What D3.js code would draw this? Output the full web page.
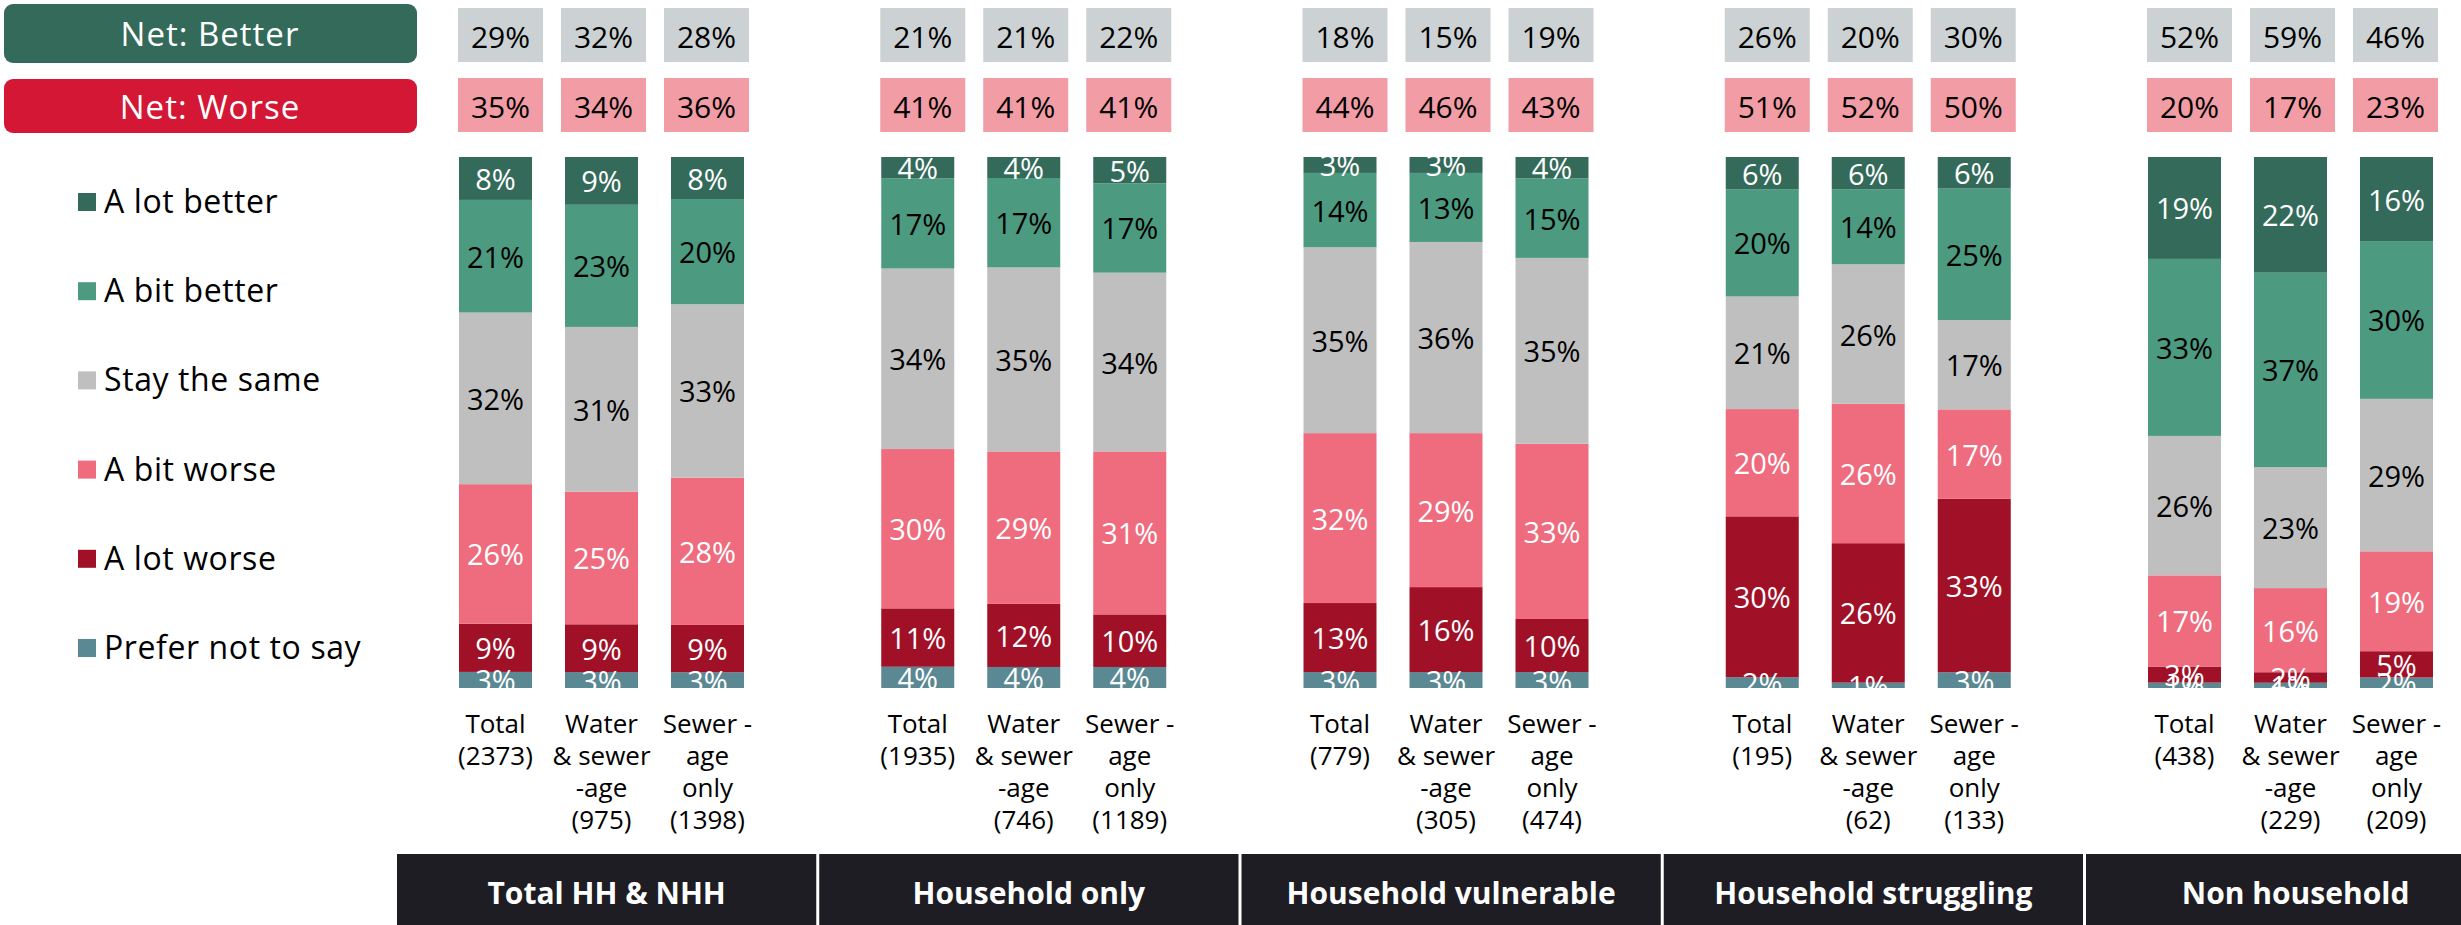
<!DOCTYPE html>
<html>
<head>
<meta charset="utf-8">
<script src="https://cdn.jsdelivr.net/npm/d3@7"></script>
<style>
  html, body { margin: 0; padding: 0; background: #ffffff; }
  svg { display: block; font-family: "Open Sans", "Noto Sans", sans-serif; }
</style>
</head>
<body>
<svg id="chart" width="2461" height="925"></svg>
<script>
// Segments (panels) and the three bars inside each segment
const groups = ["Total HH & NHH", "Household only", "Household vulnerable", "Household struggling", "Non household"];
const subgroups = ["Total", "Water & sewerage", "Sewerage only"];

// Base sizes per bar, one row per segment
const baseSizes = [
  [2373, 975, 1398],
  [1935, 746, 1189],
  [779, 305, 474],
  [195, 62, 133],
  [438, 229, 209]
];

// Answer shares (%) — 15 bars, in segment order, three bars per segment
const aLotBetter = [8, 9, 8,   4, 4, 5,   3, 3, 4,   6, 6, 6,   19, 22, 16];
const aBitBetter = [21, 23, 20, 17, 17, 17, 14, 13, 15, 20, 14, 25, 33, 37, 30];
const stayTheSame = [32, 31, 33, 34, 35, 34, 35, 36, 35, 21, 26, 17, 26, 23, 29];
const aBitWorse = [26, 25, 28, 30, 29, 31, 32, 29, 33, 20, 26, 17, 17, 16, 19];
const aLotWorse = [9, 9, 9,   11, 12, 10, 13, 16, 10, 30, 26, 33, 3, 2, 5];
const preferNotToSay = [3, 3, 3, 4, 4, 4, 3, 3, 3, 2, 1, 3, 1, 1, 2];

// Net scores shown above each bar
const netBetter = [29, 32, 28, 21, 21, 22, 18, 15, 19, 26, 20, 30, 52, 59, 46];
const netWorse = [35, 34, 36, 41, 41, 41, 44, 46, 43, 51, 52, 50, 20, 17, 23];

// Legend labels, top to bottom
const legendLabels = ["A lot better", "A bit better", "Stay the same", "A bit worse", "A lot worse", "Prefer not to say"];

// Axis label lines for the three bars of every segment
const subgroupLabelLines = [
  ["Total"],
  ["Water", "& sewer", "-age"],
  ["Sewer -", "age", "only"]
];

// ---- build table ----
const keys = ["preferNotToSay", "aLotWorse", "aBitWorse", "stayTheSame", "aBitBetter", "aLotBetter"];
const seriesValues = { aLotBetter, aBitBetter, stayTheSame, aBitWorse, aLotWorse, preferNotToSay };
const colors = {
  aLotBetter: "#346A59",
  aBitBetter: "#4C9A80",
  stayTheSame: "#BFBFBF",
  aBitWorse: "#EE6C7E",
  aLotWorse: "#A01127",
  preferNotToSay: "#5A8893"
};
const labelColors = {
  aLotBetter: "#ffffff",
  aBitBetter: "#000000",
  stayTheSame: "#000000",
  aBitWorse: "#ffffff",
  aLotWorse: "#ffffff",
  preferNotToSay: "#ffffff"
};
const legendKeys = ["aLotBetter", "aBitBetter", "stayTheSame", "aBitWorse", "aLotWorse", "preferNotToSay"];

const rows = [];
groups.forEach((g, gi) => {
  subgroups.forEach((s, si) => {
    const idx = gi * 3 + si;
    const row = { group: g, sub: s, idx, base: baseSizes[gi][si],
                  netBetter: netBetter[idx], netWorse: netWorse[idx] };
    keys.forEach(k => { row[k] = seriesValues[k][idx]; });
    rows.push(row);
  });
});

// ---- layout ----
const svg = d3.select("#chart");
const plotTop = 157, plotBottom = 688;

const xGroup = d3.scaleBand().domain(groups).range([397, 397 + 5 * 422.25]).paddingInner(0).paddingOuter(0);
const xBar = d3.scaleBand().domain(subgroups).range([62, 347]).paddingInner(33 / 106).paddingOuter(0);
const xNet = d3.scaleBand().domain(subgroups).range([61, 352]).paddingInner(18 / 103).paddingOuter(0);
const y = d3.scaleLinear().domain([0, 1]).range([plotBottom, plotTop]);

const barX = d => xGroup(d.group) + xBar(d.sub);

// 100% stacked layout
const stacked = d3.stack().keys(keys).offset(d3.stackOffsetExpand)(rows);

svg.append("defs").append("clipPath").attr("id", "plotClip")
  .append("rect").attr("x", 0).attr("y", plotTop).attr("width", 2461).attr("height", plotBottom - plotTop);

// bars
const layers = svg.append("g").attr("class", "bars")
  .selectAll("g").data(stacked).join("g")
  .attr("fill", s => colors[s.key]);

layers.selectAll("rect").data(s => s.map(p => ({ p, key: s.key })))
  .join("rect")
  .attr("x", d => barX(d.p.data))
  .attr("width", xBar.bandwidth())
  .attr("y", d => y(d.p[1]))
  .attr("height", d => y(d.p[0]) - y(d.p[1]));

// value labels inside segments
const labelLayer = svg.append("g").attr("clip-path", "url(#plotClip)")
  .attr("font-size", 29).attr("text-anchor", "middle");
stacked.forEach(s => {
  labelLayer.append("g").attr("fill", labelColors[s.key])
    .selectAll("text").data(s).join("text")
    .attr("x", p => barX(p.data) + xBar.bandwidth() / 2)
    .attr("y", p => (y(p[0]) + y(p[1])) / 2)
    .attr("dominant-baseline", "central")
    .text(p => p.data[s.key] + "%");
});

// net boxes
const netRows = [
  { field: "netBetter", y0: 8, fill: "#CCD2D4" },
  { field: "netWorse", y0: 78, fill: "#F29CA6" }
];
netRows.forEach(nr => {
  const g = svg.append("g");
  g.selectAll("rect").data(rows).join("rect")
    .attr("x", d => xGroup(d.group) + xNet(d.sub))
    .attr("y", nr.y0)
    .attr("width", xNet.bandwidth())
    .attr("height", 54)
    .attr("fill", nr.fill);
  g.selectAll("text").data(rows).join("text")
    .attr("x", d => xGroup(d.group) + xNet(d.sub) + xNet.bandwidth() / 2)
    .attr("y", nr.y0 + 28)
    .attr("dominant-baseline", "central")
    .attr("text-anchor", "middle")
    .attr("font-size", 30)
    .attr("fill", "#000")
    .text(d => d[nr.field] + "%");
});

// net headers on the left
const headers = [
  { text: "Net: Better", y0: 4, h: 59, fill: "#346A59" },
  { text: "Net: Worse", y0: 79, h: 54, fill: "#D31735" }
];
const hg = svg.append("g");
hg.selectAll("rect").data(headers).join("rect")
  .attr("x", 4).attr("y", d => d.y0).attr("width", 413).attr("height", d => d.h)
  .attr("rx", 9).attr("fill", d => d.fill);
hg.selectAll("text").data(headers).join("text")
  .attr("x", 210).attr("y", d => d.y0 + d.h / 2)
  .attr("dominant-baseline", "central").attr("text-anchor", "middle")
  .attr("font-size", 33).attr("letter-spacing", 1).attr("fill", "#fff")
  .text(d => d.text);

// legend
const yLegend = d3.scalePoint().domain(legendKeys).range([202, 648]);
const lg = svg.append("g");
lg.selectAll("rect").data(legendKeys).join("rect")
  .attr("x", 78).attr("y", k => yLegend(k) - 9).attr("width", 18).attr("height", 18)
  .attr("fill", k => colors[k]);
lg.selectAll("text").data(legendKeys).join("text")
  .attr("x", 104).attr("y", k => yLegend(k) + 11)
  .attr("font-size", 32).attr("letter-spacing", 0.6).attr("fill", "#000")
  .text((k, i) => legendLabels[i]);

// category labels under bars
const catG = svg.append("g").attr("font-size", 26).attr("text-anchor", "middle").attr("fill", "#000");
rows.forEach(d => {
  const si = subgroups.indexOf(d.sub);
  const lines = subgroupLabelLines[si].concat(["(" + d.base + ")"]);
  const t = catG.append("text")
    .attr("x", barX(d) + xBar.bandwidth() / 2)
    .attr("y", 733);
  lines.forEach((ln, li) => {
    t.append("tspan")
      .attr("x", barX(d) + xBar.bandwidth() / 2)
      .attr("dy", li === 0 ? 0 : 32)
      .text(ln);
  });
});

// segment name bands at the bottom
const bandG = svg.append("g");
bandG.selectAll("rect").data(groups).join("rect")
  .attr("x", g => xGroup(g))
  .attr("y", 854)
  .attr("width", xGroup.bandwidth() - 3)
  .attr("height", 71)
  .attr("fill", "#1E1D24");
bandG.selectAll("text").data(groups).join("text")
  .attr("x", g => xGroup(g) + (xGroup.bandwidth() - 3) / 2)
  .attr("y", 892)
  .attr("dominant-baseline", "central")
  .attr("text-anchor", "middle")
  .attr("font-size", 30)
  .attr("font-weight", "bold")
  .attr("fill", "#fff")
  .text(g => g);
</script>
</body>
</html>
